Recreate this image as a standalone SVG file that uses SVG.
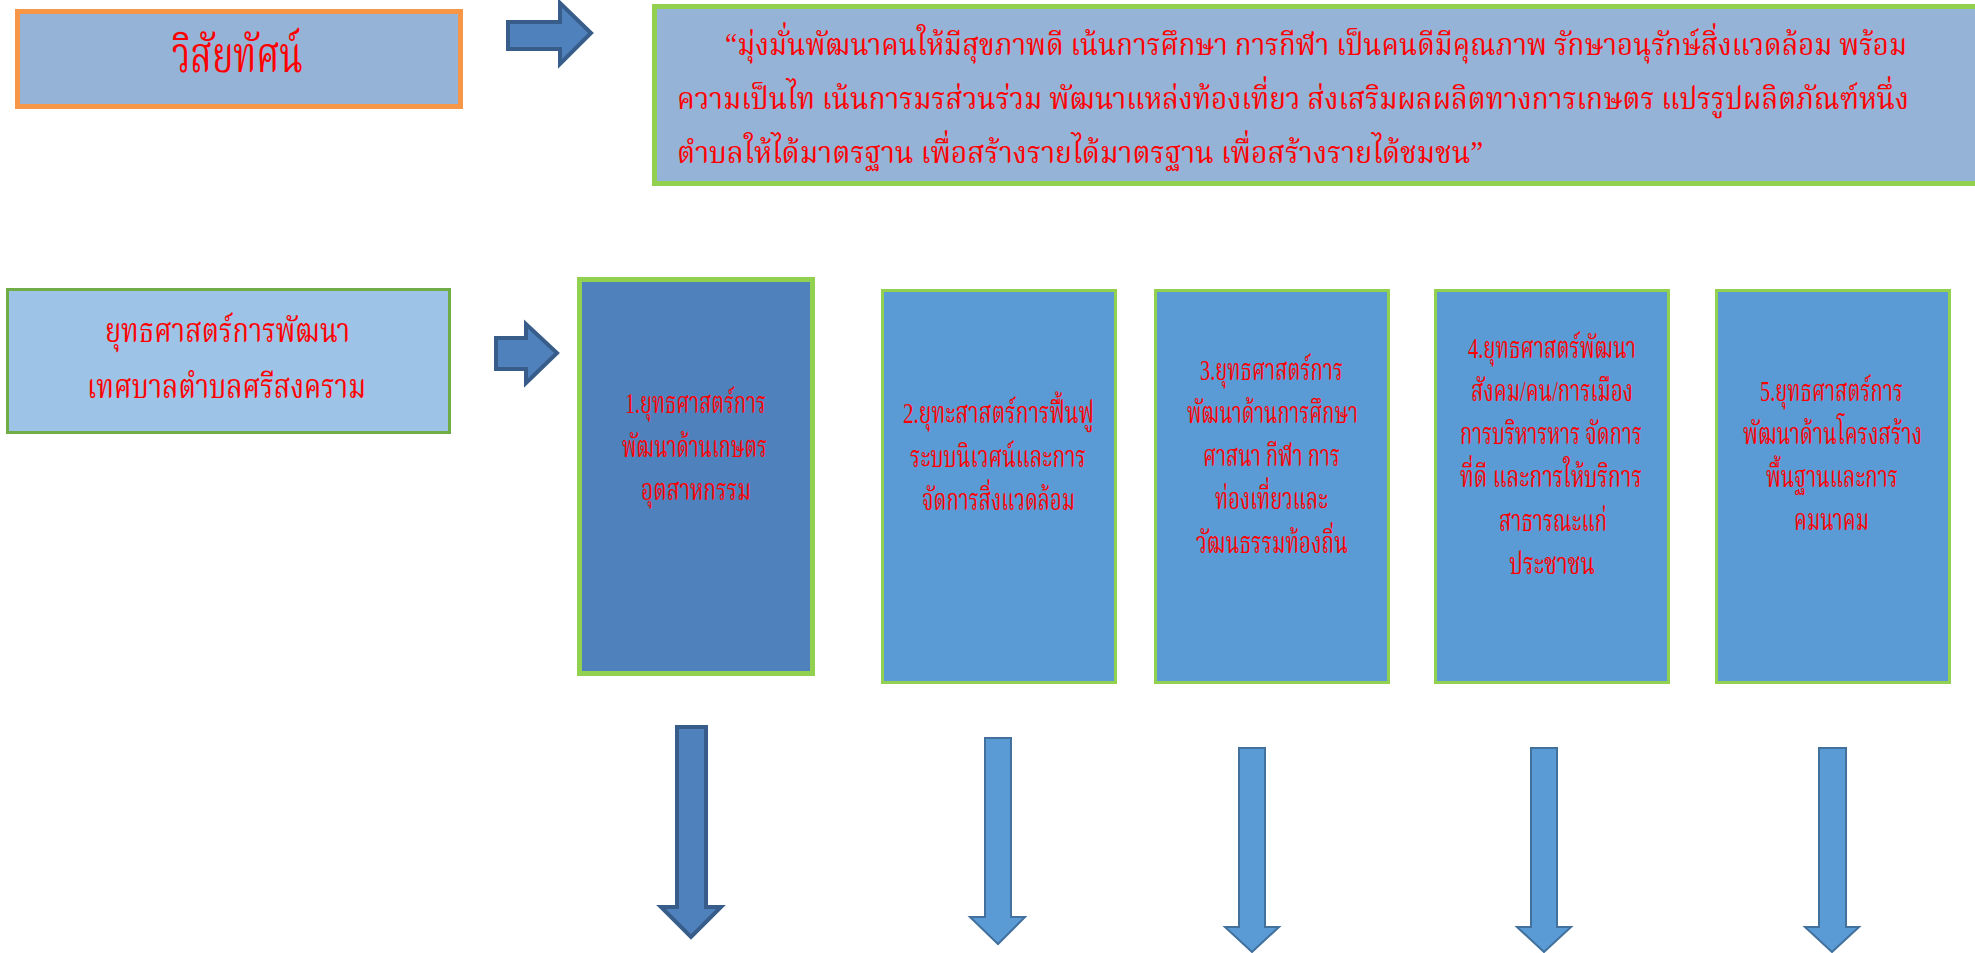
<svg xmlns="http://www.w3.org/2000/svg" width="1975" height="953" viewBox="0 0 1975 953">
<style>
text{font-family:"Liberation Serif","Noto Serif Thai","Noto Sans Thai",serif;fill:#FF0000;}
.t1{font-size:30px}
.tv{font-size:31px}
.ts{font-size:34px}
.tt{font-size:50px;font-weight:normal}
.arrL{fill:#4F81BD;stroke:#385D8A;stroke-width:4;stroke-linejoin:miter}
.arrS{fill:#5B9BD5;stroke:#41719C;stroke-width:2}
.box{fill:#5B9BD5;stroke:#92D050;stroke-width:3}
</style>
<g id="vision">
<rect x="17.5" y="11.5" width="443" height="95" fill="#95B3D7" stroke="#F79646" stroke-width="5"/>
<text class="tt" x="172" y="72" textLength="131" lengthAdjust="spacingAndGlyphs">วิสัยทัศน์</text>
</g>
<g id="vision-text">
<rect x="654.5" y="6.5" width="1325" height="177" fill="#95B3D7" stroke="#92D050" stroke-width="5"/>
<text class="tv" x="725" y="55" textLength="1182" lengthAdjust="spacingAndGlyphs">“มุ่งมั่นพัฒนาคนให้มีสุขภาพดี เน้นการศึกษา การกีฬา เป็นคนดีมีคุณภาพ รักษาอนุรักษ์สิ่งแวดล้อม พร้อม</text>
<text class="tv" x="677" y="109" textLength="1232" lengthAdjust="spacingAndGlyphs">ความเป็นไท  เน้นการมรส่วนร่วม พัฒนาแหล่งท้องเที่ยว ส่งเสริมผลผลิตทางการเกษตร แปรรูปผลิตภัณฑ์หนึ่ง</text>
<text class="tv" x="677" y="163" textLength="806" lengthAdjust="spacingAndGlyphs">ตำบลให้ได้มาตรฐาน  เพื่อสร้างรายได้มาตรฐาน เพื่อสร้างรายได้ชมชน”</text>
</g>
<g id="strategy">
<rect x="7.5" y="289.5" width="442" height="143" fill="#9DC3E6" stroke="#70AD47" stroke-width="3"/>
<text class="ts" x="105" y="342" textLength="245" lengthAdjust="spacingAndGlyphs">ยุทธศาสตร์การพัฒนา</text>
<text class="ts" x="87" y="398" textLength="279" lengthAdjust="spacingAndGlyphs">เทศบาลตำบลศรีสงคราม</text>
</g>
<g id="s1">
<rect x="579.5" y="279.5" width="233" height="394" fill="#4F81BD" stroke="#92D050" stroke-width="5"/>
<text class="t1" x="625" y="413" textLength="141" lengthAdjust="spacingAndGlyphs">1.ยุทธศาสตร์การ</text>
<text class="t1" x="622" y="457" textLength="145" lengthAdjust="spacingAndGlyphs">พัฒนาด้านเกษตร</text>
<text class="t1" x="641" y="500" textLength="110" lengthAdjust="spacingAndGlyphs">อุตสาหกรรม</text>
</g>
<g id="s2">
<rect class="box" x="882.5" y="290.5" width="233" height="392"/>
<text class="t1" x="903" y="423" textLength="191" lengthAdjust="spacingAndGlyphs">2.ยุทะสาสตร์การฟื้นฟู</text>
<text class="t1" x="910" y="467" textLength="176" lengthAdjust="spacingAndGlyphs">ระบบนิเวศน์และการ</text>
<text class="t1" x="922" y="510" textLength="153" lengthAdjust="spacingAndGlyphs">จัดการสิ่งแวดล้อม</text>
</g>
<g id="s3">
<rect class="box" x="1155.5" y="290.5" width="233" height="392"/>
<text class="t1" x="1200" y="380" textLength="143" lengthAdjust="spacingAndGlyphs">3.ยุทธศาสตร์การ</text>
<text class="t1" x="1187" y="423" textLength="171" lengthAdjust="spacingAndGlyphs">พัฒนาด้านการศึกษา</text>
<text class="t1" x="1203" y="466" textLength="137" lengthAdjust="spacingAndGlyphs">ศาสนา กีฬา การ</text>
<text class="t1" x="1215" y="509" textLength="113" lengthAdjust="spacingAndGlyphs">ท่องเที่ยวและ</text>
<text class="t1" x="1196" y="553" textLength="152" lengthAdjust="spacingAndGlyphs">วัฒนธรรมท้องถิ่น</text>
</g>
<g id="s4">
<rect class="box" x="1435.5" y="290.5" width="233" height="392"/>
<text class="t1" x="1468" y="358" textLength="168" lengthAdjust="spacingAndGlyphs">4.ยุทธศาสตร์พัฒนา</text>
<text class="t1" x="1471" y="401" textLength="162" lengthAdjust="spacingAndGlyphs">สังคม/คน/การเมือง</text>
<text class="t1" x="1460" y="444" textLength="182" lengthAdjust="spacingAndGlyphs">การบริหารหาร จัดการ</text>
<text class="t1" x="1460" y="487" textLength="182" lengthAdjust="spacingAndGlyphs">ที่ดี และการให้บริการ</text>
<text class="t1" x="1499" y="531" textLength="108" lengthAdjust="spacingAndGlyphs">สาธารณะแก่</text>
<text class="t1" x="1509" y="574" textLength="86" lengthAdjust="spacingAndGlyphs">ประชาชน</text>
</g>
<g id="s5">
<rect class="box" x="1716.5" y="290.5" width="233" height="392"/>
<text class="t1" x="1760" y="401" textLength="143" lengthAdjust="spacingAndGlyphs">5.ยุทธศาสตร์การ</text>
<text class="t1" x="1743" y="444" textLength="179" lengthAdjust="spacingAndGlyphs">พัฒนาด้านโครงสร้าง</text>
<text class="t1" x="1766" y="487" textLength="132" lengthAdjust="spacingAndGlyphs">พื้นฐานและการ</text>
<text class="t1" x="1794" y="530" textLength="75" lengthAdjust="spacingAndGlyphs">คมนาคม</text>
</g>
<g id="connectors">
<polygon class="arrL" points="508,22 560,22 560,3 591,33 560,64 560,49 508,49"/>
<polygon class="arrL" points="496,338 526,338 526,324 557,353 526,383 526,369 496,369"/>
<polygon class="arrL" points="677,727 706,727 706,907 721,907 691,937 661,907 677,907"/>
<polygon class="arrS" points="985,738 1011,738 1011,917 1025,917 998,944 970,917 985,917"/>
<polygon class="arrS" points="1239,748 1265,748 1265,927 1279,927 1252,952 1225,927 1239,927"/>
<polygon class="arrS" points="1531,748 1557,748 1557,927 1571,927 1544,952 1517,927 1531,927"/>
<polygon class="arrS" points="1819,748 1846,748 1846,927 1859,927 1832,952 1805,927 1819,927"/>
</g>
</svg>
